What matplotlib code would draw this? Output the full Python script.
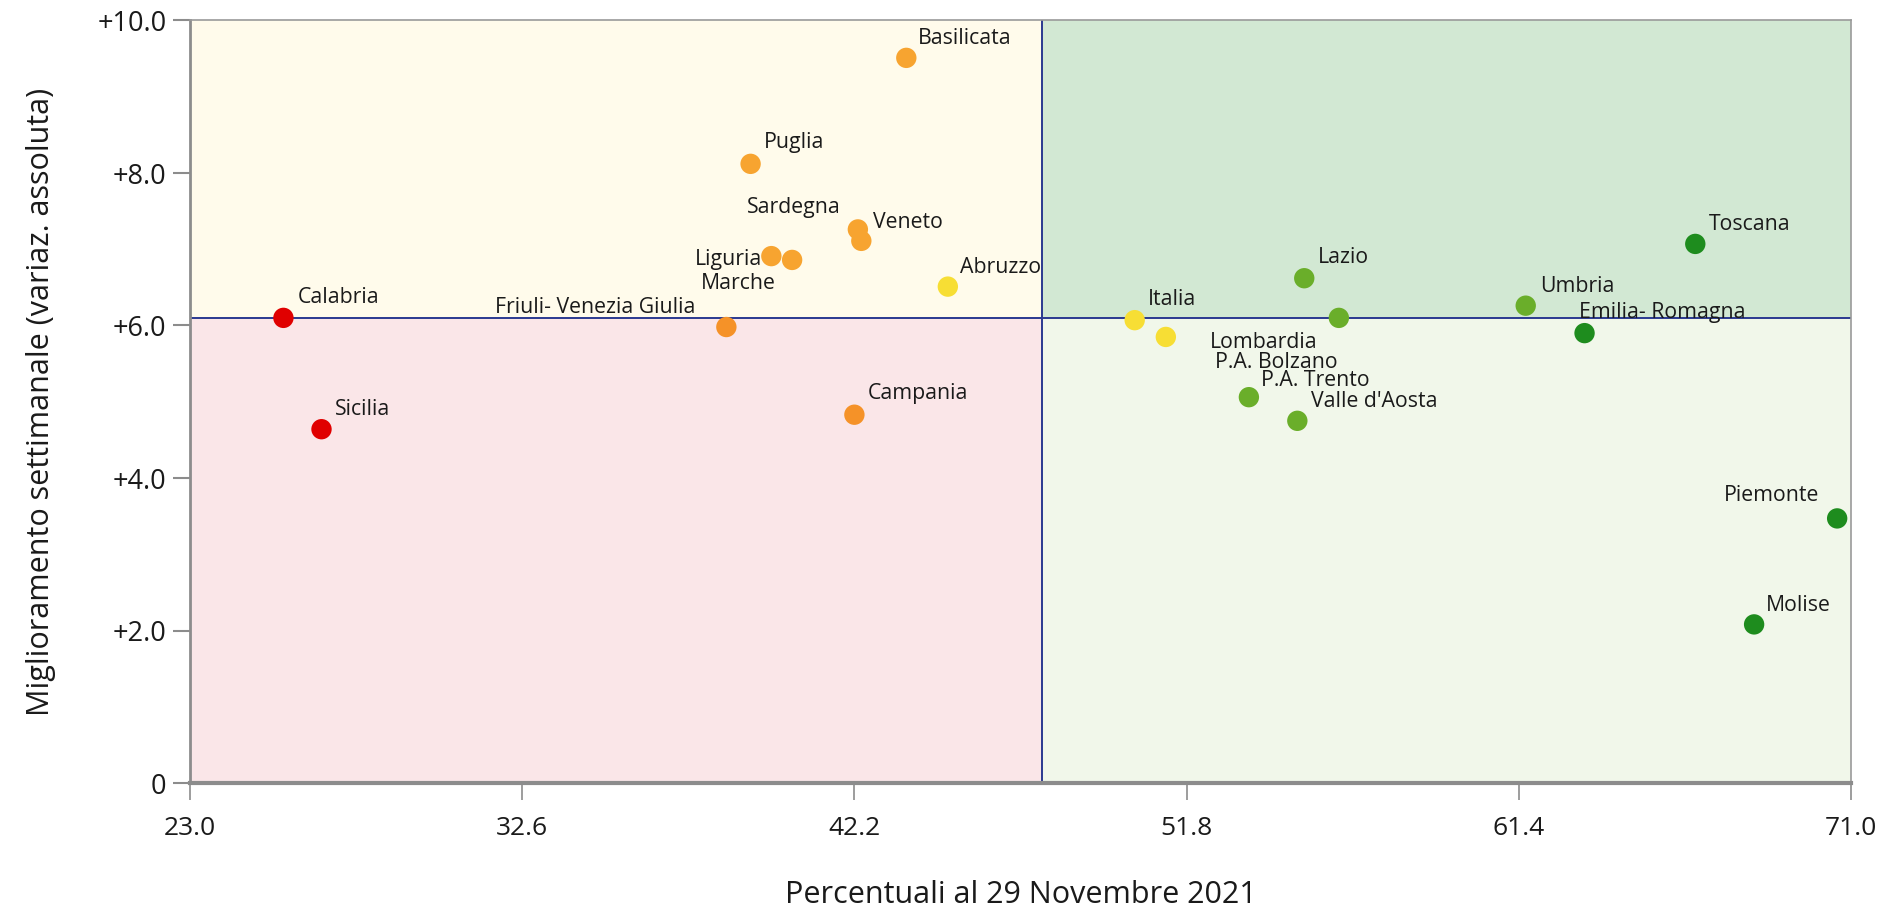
import matplotlib
matplotlib.use("Agg")
import matplotlib.pyplot as plt
from matplotlib.patches import Rectangle

plt.rcParams['font.family'] = ['Open Sans', 'DejaVu Sans']

# ---- data ----
regions = ["Basilicata", "Puglia", "Sardegna", "Veneto", "Liguria", "Marche",
           "Abruzzo", "Calabria", "Friuli- Venezia Giulia", "Campania", "Sicilia",
           "Italia", "Lombardia", "P.A. Bolzano", "P.A. Trento", "Valle d'Aosta",
           "Lazio", "Umbria", "Emilia- Romagna", "Toscana", "Piemonte", "Molise"]
pct = [43.7, 39.2, 42.3, 42.4, 39.8, 40.4,
       44.9, 25.7, 38.5, 42.2, 26.8,
       50.3, 51.2, 56.2, 53.6, 55.0,
       55.2, 61.6, 63.3, 66.5, 70.6, 68.2]
improvement = [9.51, 8.12, 7.26, 7.11, 6.91, 6.86,
               6.51, 6.10, 5.98, 4.83, 4.64,
               6.07, 5.85, 6.10, 5.06, 4.75,
               6.62, 6.26, 5.90, 7.07, 3.47, 2.08]
x_ref = 47.63
y_ref = 6.10
x_ticks = [23.0, 32.6, 42.2, 51.8, 61.4, 71.0]
y_ticks = [0, 2, 4, 6, 8, 10]
y_tick_labels = ["0", "+2.0", "+4.0", "+6.0", "+8.0", "+10.0"]

# ---- styles ----
RED, ORANGE, ORANGE2, YELLOW, LGREEN, DGREEN = "#e00000", "#f7a430", "#f59228", "#f7de34", "#6aae2a", "#1e8c1e"
colors = [ORANGE, ORANGE, ORANGE, ORANGE, ORANGE, ORANGE,
          YELLOW, RED, ORANGE2, ORANGE2, RED,
          YELLOW, YELLOW, LGREEN, LGREEN, LGREEN,
          LGREEN, LGREEN, DGREEN, DGREEN, DGREEN, DGREEN]
# label offsets (in reference pixels, shrunk scale), alignment
offsets = {
    "Basilicata": (10, -16, 'left'), "Puglia": (11, -18, 'left'),
    "Sardegna": (-14, -18, 'right'), "Veneto": (10, -15, 'left'),
    "Liguria": (-8, 3, 'right'), "Marche": (-14, 20, 'right'),
    "Abruzzo": (10, -16, 'left'), "Calabria": (12, -17, 'left'),
    "Friuli- Venezia Giulia": (-26, -16, 'right'), "Campania": (11, -18, 'left'),
    "Sicilia": (11, -16, 'left'), "Italia": (11, -17, 'left'),
    "Lombardia": (37, 5, 'left'), "P.A. Bolzano": (-1, 37, 'right'),
    "P.A. Trento": (10, -14, 'left'), "Valle d'Aosta": (11, -16, 'left'),
    "Lazio": (11, -17, 'left'), "Umbria": (12, -16, 'left'),
    "Emilia- Romagna": (-5, -17, 'left'), "Toscana": (11, -16, 'left'),
    "Piemonte": (-15, -19, 'right'), "Molise": (10, -16, 'left'),
}
PX2PT = 1.2022 * 0.72

W, H = 1885, 913
fig = plt.figure(figsize=(W / 100, H / 100), dpi=100)
L, R, T, B = 190, 1851, 20.5, 783
ax = fig.add_axes([L / W, 1 - B / H, (R - L) / W, (B - T) / H])

xmin, xmax, ymin, ymax = 23.0, 71.0, 0, 10
ax.set_xlim(xmin, xmax)
ax.set_ylim(ymin, ymax)

# quadrants
ax.add_patch(Rectangle((xmin, y_ref), x_ref - xmin, ymax - y_ref, color="#fffbeb", zorder=0, lw=0))
ax.add_patch(Rectangle((xmin, ymin), x_ref - xmin, y_ref - ymin, color="#fae6e8", zorder=0, lw=0))
ax.add_patch(Rectangle((x_ref, y_ref), xmax - x_ref, ymax - y_ref, color="#d2e8d3", zorder=0, lw=0))
ax.add_patch(Rectangle((x_ref, ymin), xmax - x_ref, y_ref - ymin, color="#f1f7ea", zorder=0, lw=0))
ax.axvline(x_ref, color="#2a3990", lw=1.4, zorder=1)
ax.axhline(y_ref, color="#2a3990", lw=1.4, zorder=1)

ax.scatter(pct, improvement, s=215, c=colors, linewidths=0, zorder=3, clip_on=False)

for name, x, y in zip(regions, pct, improvement):
    dx, dy, ha = offsets[name]
    ax.annotate(name, (x, y), xytext=(dx * PX2PT, -dy * PX2PT), textcoords='offset points',
                ha=ha, va='center', fontsize=15.3, color="#1a1a1a", zorder=4)

ax.set_xticks(x_ticks)
ax.set_xticklabels([f"{v:.1f}" for v in x_ticks])
ax.set_yticks(y_ticks)
ax.set_yticklabels(y_tick_labels)
ax.tick_params(axis='x', length=12, width=1.2, color="#8c8c8c", labelsize=19, pad=12, labelcolor="#1a1a1a")
ax.tick_params(axis='y', length=12, width=1.5, color="#8c8c8c", labelsize=19.5, pad=5, labelcolor="#1a1a1a")

for s in ['top', 'right']:
    ax.spines[s].set_color("#9a9a9a")
    ax.spines[s].set_linewidth(1.2)
ax.spines['left'].set_color("#8c8c8c")
ax.spines['left'].set_linewidth(2)
ax.spines['bottom'].set_color("#8c8c8c")
ax.spines['bottom'].set_linewidth(3)

ax.set_xlabel("Percentuali al 29 Novembre 2021", fontsize=22, color="#1a1a1a", labelpad=28)
ax.set_ylabel("Miglioramento settimanale (variaz. assoluta)", fontsize=22, color="#1a1a1a", labelpad=30)

fig.savefig("out.png", dpi=100)
